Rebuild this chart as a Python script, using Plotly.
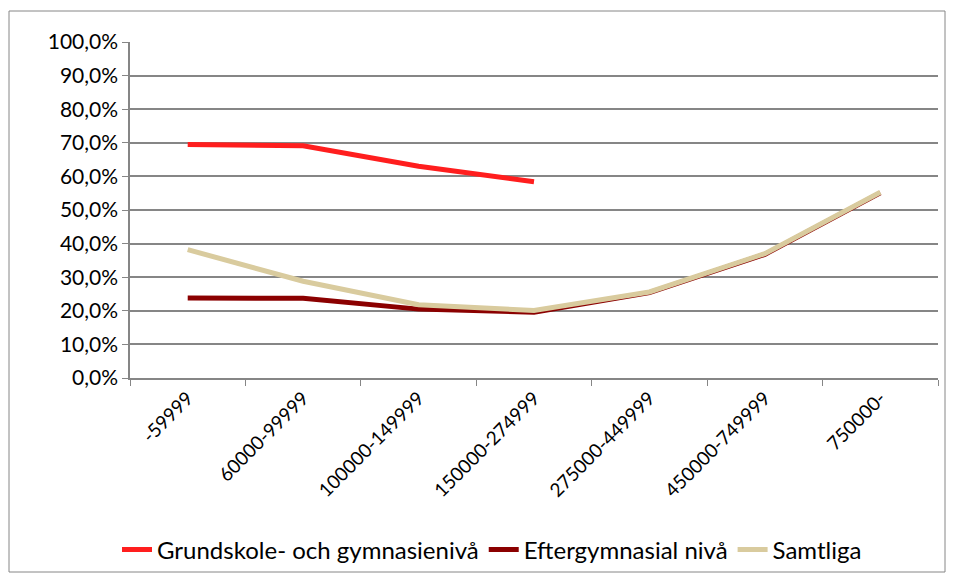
import plotly.graph_objects as go

categories = ["-59999", "60000-99999", "100000-149999", "150000-274999",
              "275000-449999", "450000-749999", "750000-"]

grundskole = [0.695, 0.691, 0.630, 0.584, None, None, None]
eftergymnasial = [0.238, 0.237, 0.205, 0.196, 0.254, 0.368, 0.551]
samtliga = [0.382, 0.288, 0.218, 0.201, 0.256, 0.370, 0.553]

GRID = "#868686"
FONT = "Lato, 'Open Sans', sans-serif"

# the page body has an 8px margin, so the figure is drawn 8px in from the corner
OFF = 8
W, H = 954 - 2 * OFF, 581 - 2 * OFF
L, T = 130 - OFF, 42 - OFF
R = W - (938 - OFF)
B = H - (378 - OFF)
pw, ph = W - L - R, H - T - B


def px_x(x):
    return (x - OFF - L) / pw


def px_y(y):
    return (H - B - (y - OFF)) / ph


fig = go.Figure()
fig.add_trace(go.Scatter(x=categories, y=grundskole, mode="lines",
                         name="Grundskole- och gymnasienivå",
                         line=dict(color="#ff1e1e", width=5)))
fig.add_trace(go.Scatter(x=categories, y=eftergymnasial, mode="lines",
                         name="Eftergymnasial nivå",
                         line=dict(color="#8b0000", width=5)))
fig.add_trace(go.Scatter(x=categories, y=samtliga, mode="lines",
                         name="Samtliga",
                         line=dict(color="#d9cb9e", width=5)))

# outer chart frame
fig.add_shape(type="rect", xref="paper", yref="paper",
              x0=px_x(9), x1=px_x(945), y0=px_y(572), y1=px_y(11),
              line=dict(color=GRID, width=1), fillcolor="rgba(0,0,0,0)",
              layer="below")

fig.update_layout(
    width=W, height=H, autosize=False,
    margin=dict(l=L, r=R, t=T, b=B),
    paper_bgcolor="white", plot_bgcolor="white",
    separators=", ",
    font=dict(family=FONT, color="black", size=20),
    showlegend=True,
    legend=dict(orientation="h", x=px_x(492), xanchor="center",
                yref="container", y=(H - (550 - OFF)) / H, yanchor="middle",
                font=dict(size=24, family=FONT), bgcolor="rgba(0,0,0,0)"),
    xaxis=dict(type="category", range=[-0.5, 6.5], showgrid=False,
               showline=True, linecolor=GRID, linewidth=1.5,
               ticks="outside", tickson="boundaries", ticklen=6,
               tickcolor=GRID, tickangle=-45, automargin=False,
               tickfont=dict(size=19, family=FONT)),
    yaxis=dict(range=[0, 1], dtick=0.1, tickformat=".1%",
               showgrid=True, gridcolor=GRID, gridwidth=1.5,
               zeroline=False, showline=True, linecolor=GRID, linewidth=1.5,
               ticks="outside", ticklen=6, tickcolor=GRID, automargin=False,
               tickfont=dict(size=21, family=FONT)),
)

fig.write_html("out.html")
